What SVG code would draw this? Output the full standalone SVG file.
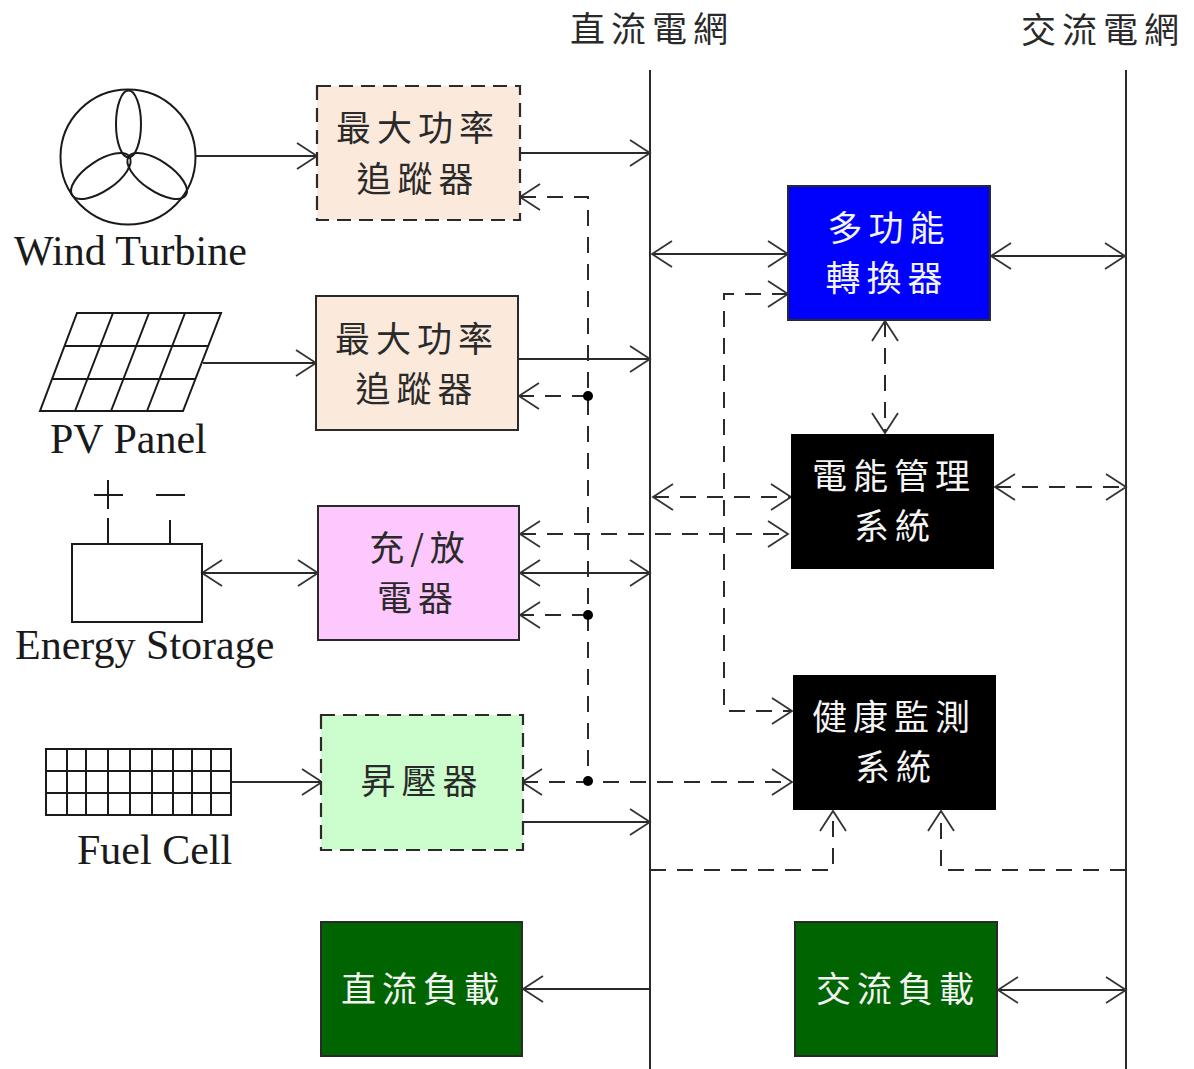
<svg xmlns="http://www.w3.org/2000/svg" width="1194" height="1069" viewBox="0 0 1194 1069">
<style>
.l{fill:none;stroke:#2a2a2a;stroke-width:2}
.d{fill:none;stroke:#2a2a2a;stroke-width:2;stroke-dasharray:16 11}
.sym{fill:none;stroke:#1a1a1a;stroke-width:2}
.box{stroke:#2a2a2a;stroke-width:2}
.bd{stroke:#2a2a2a;stroke-width:2.2;stroke-dasharray:14 8}
.cjk{font-family:"Noto Sans CJK TC","Liberation Serif",serif;font-size:35px;letter-spacing:6px;text-anchor:middle;fill:#2a2a2a}
.w{fill:#f4f4f4}
.en{font-family:"Liberation Serif",serif;font-size:42px;fill:#1a1a1a}
</style>
<defs>
<marker id="a" markerUnits="userSpaceOnUse" markerWidth="24" markerHeight="30" refX="21" refY="14" orient="auto-start-reverse" overflow="visible">
<path d="M1 1L21 14L1 27" fill="none" stroke="#333" stroke-width="1.8"/>
</marker>
</defs>
<text class="cjk" x="652" y="42">直流電網</text>
<text class="cjk" x="1103" y="43">交流電網</text>

<g id="connectors">
<path class="l" d="M650 70V1069M1126 70V1069"/>
<path class="l" d="M196 156H317" marker-end="url(#a)"/>
<path class="l" d="M203 363H316" marker-end="url(#a)"/>
<path class="l" d="M202 573H318" marker-start="url(#a)" marker-end="url(#a)"/>
<path class="l" d="M231 782H322" marker-end="url(#a)"/>
<path class="l" d="M520 153H650" marker-end="url(#a)"/>
<path class="l" d="M518 359H650" marker-end="url(#a)"/>
<path class="l" d="M520 573H650" marker-start="url(#a)" marker-end="url(#a)"/>
<path class="l" d="M523 822H650" marker-end="url(#a)"/>
<path class="l" d="M652 254H788" marker-start="url(#a)" marker-end="url(#a)"/>
<path class="l" d="M991 256H1125" marker-start="url(#a)" marker-end="url(#a)"/>
<path class="l" d="M523 989H650" marker-start="url(#a)"/>
<path class="l" d="M998 990H1126" marker-start="url(#a)" marker-end="url(#a)"/>
<path class="d" d="M520 197H588V782" marker-start="url(#a)"/>
<path class="d" d="M588 396H519" marker-end="url(#a)"/>
<path class="d" d="M588 615H520" marker-end="url(#a)"/>
<path class="d" d="M522 782H792" marker-start="url(#a)" marker-end="url(#a)"/>
<path class="d" d="M520 534H788" marker-start="url(#a)" marker-end="url(#a)"/>
<path class="d" d="M653 497H791" marker-start="url(#a)" marker-end="url(#a)"/>
<path class="d" d="M995 487H1126" marker-start="url(#a)" marker-end="url(#a)"/>
<path class="d" d="M885 321V433" marker-start="url(#a)" marker-end="url(#a)"/>
<path class="d" d="M788 294H724V711H792" marker-start="url(#a)" marker-end="url(#a)"/>
<path class="d" d="M650 870H833V811" marker-end="url(#a)"/>
<path class="d" d="M1126 870H941V811" marker-end="url(#a)"/>
<circle cx="588" cy="396" r="5" fill="#000"/>
<circle cx="588" cy="615" r="5" fill="#000"/>
<circle cx="588" cy="781" r="5" fill="#000"/>
</g>

<g id="wind-turbine">
<circle class="sym" cx="128" cy="157" r="67.500"/>
<ellipse class="sym" cx="128.500" cy="124" rx="12.500" ry="33.500"/>
<ellipse class="sym" cx="129" cy="123" rx="15" ry="34.500" transform="rotate(124 129 157)"/>
<ellipse class="sym" cx="129" cy="123" rx="15" ry="34.500" transform="rotate(-124 129 157)"/>
<text class="en" x="14" y="265">Wind Turbine</text>
</g>
<g id="pv-panel">
<path class="sym" d="M77 313H221L183 411H40ZM65 346H208M53 379H196M113 313L75 411M149 313L111 411M185 313L147 411"/>
<text class="en" x="50" y="453">PV Panel</text>
</g>
<g id="energy-storage">
<rect class="sym" x="72" y="544" width="130" height="78" fill="#fff"/>
<path class="sym" d="M108 544V518M170 544V520M94 495H123M156 495H185M108 480V509"/>
<text class="en" x="15" y="659">Energy Storage</text>
</g>
<g id="fuel-cell">
<path class="sym" d="M46 749H231V815H46ZM46 771H231M46 793H231M67 749V815M86 749V815M108 749V815M130 749V815M152 749V815M173 749V815M192 749V815M211 749V815"/>
<text class="en" x="77" y="864">Fuel Cell</text>
</g>

<g id="mppt-1">
<rect class="bd" x="317" y="86" width="203" height="134" fill="#fbe9dc"/>
<text class="cjk" x="418" y="141">最大功率</text>
<text class="cjk" x="418" y="192">追蹤器</text>
</g>
<g id="mppt-2">
<rect class="box" x="316" y="296" width="202" height="134" fill="#fbe9dc"/>
<text class="cjk" x="417" y="352">最大功率</text>
<text class="cjk" x="417" y="402">追蹤器</text>
</g>
<g id="charger">
<rect class="box" x="318" y="506" width="201" height="134" fill="#fdc8fd"/>
<text class="cjk" x="420" y="561">充/放</text>
<text class="cjk" x="418" y="611">電器</text>
</g>
<g id="boost">
<rect class="bd" x="321" y="715" width="202" height="135" fill="#ccfdcc"/>
<text class="cjk" x="422" y="794">昇壓器</text>
</g>
<g id="dc-load">
<rect class="box" x="321" y="922" width="201" height="134" fill="#006400"/>
<text class="cjk w" x="423" y="1002">直流負載</text>
</g>
<g id="ac-load">
<rect class="box" x="795" y="922" width="202" height="134" fill="#006400"/>
<text class="cjk w" x="898" y="1002">交流負載</text>
</g>
<g id="converter">
<rect class="box" x="788" y="186" width="202" height="134" fill="#0000fd"/>
<text class="cjk w" x="889" y="241">多功能</text>
<text class="cjk w" x="887" y="291">轉換器</text>
</g>
<g id="ems">
<rect x="791" y="434" width="203" height="135" fill="#000"/>
<text class="cjk w" x="894" y="489">電能管理</text>
<text class="cjk w" x="895" y="539">系統</text>
</g>
<g id="hms">
<rect x="793" y="675" width="203" height="135" fill="#000"/>
<text class="cjk w" x="894" y="730">健康監測</text>
<text class="cjk w" x="896" y="780">系統</text>
</g>
</svg>
